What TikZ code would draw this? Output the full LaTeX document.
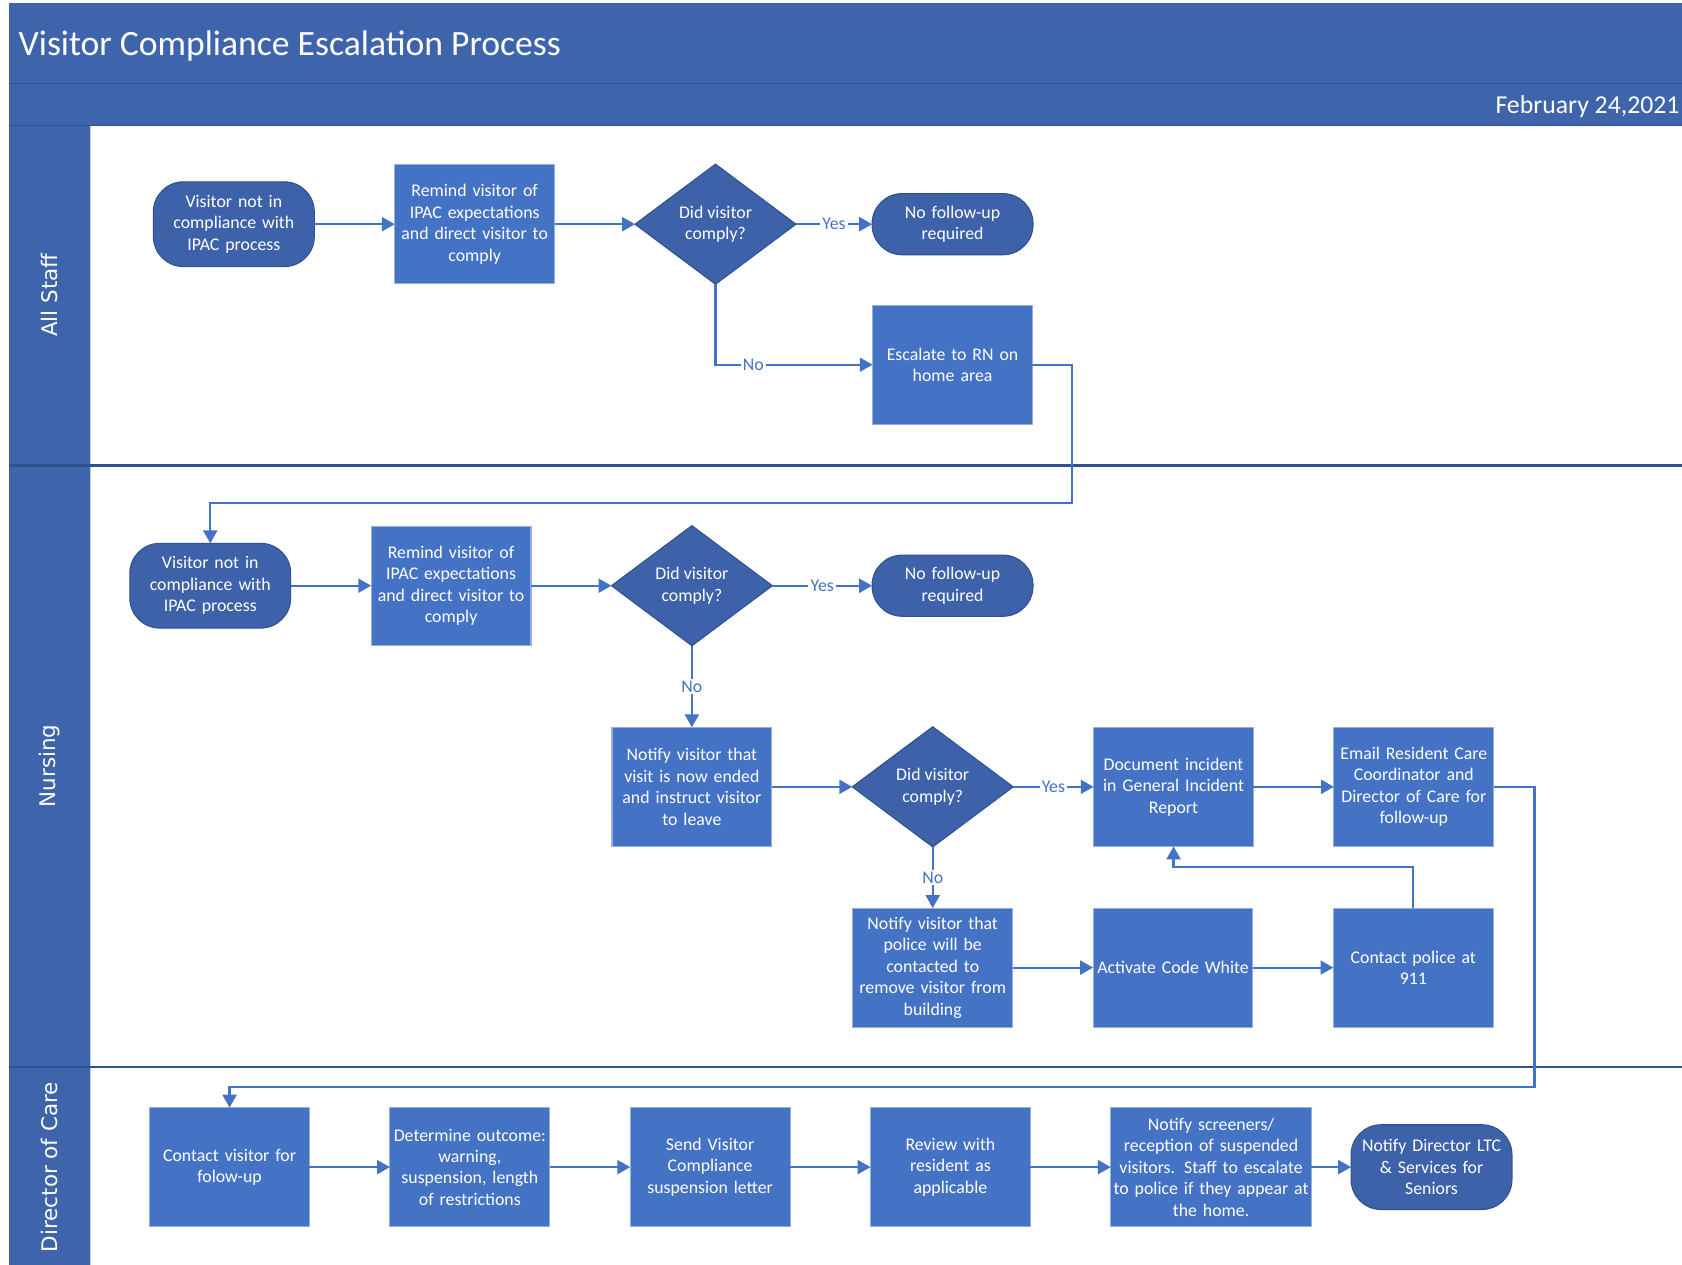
\documentclass[tikz,border=0pt]{standalone}
\usepackage{fontspec}
\setmainfont{Carlito}
\newfontfamily\lanefont{DejaVu Sans}
\usetikzlibrary{positioning}
\usetikzlibrary{shapes.geometric}
\usetikzlibrary{arrows.meta}

\definecolor{hdrblue}{RGB}{62,100,172}
\definecolor{boxblue}{RGB}{68,114,196}
\definecolor{boxedge}{RGB}{150,175,222}
\definecolor{darkblue}{RGB}{61,98,170}
\definecolor{darkedge}{RGB}{47,82,143}

\begin{document}
\begin{tikzpicture}[x=0.5pt, y=-0.5pt,
	sqnode/.style={rectangle, draw=boxedge, fill=boxblue, line width=0.5pt, text=white, minimum width=74.5pt, minimum height=55.5pt, text width=72pt, inner sep=0pt, outer sep=0pt},
	dmnode/.style={diamond, draw=darkedge, fill=darkblue, line width=0.5pt, text=white, aspect=1.34, minimum width=75pt, minimum height=56pt, inner sep=0pt, outer sep=0pt},
	tmnode/.style={rectangle, rounded corners=14pt, draw=darkedge, fill=darkblue, line width=0.5pt, text=white, minimum width=75pt, minimum height=39.5pt, text width=70pt, inner sep=0pt, outer sep=0pt},
	lanelbl/.style={rotate=90, text=white, font=\lanefont\fontsize{10}{12}\selectfont},
	lbl/.style={fill=white, text=boxblue, inner sep=1pt},
	flow/.style={draw=boxblue, line width=1pt, -{Triangle[length=6pt,width=6.5pt]}},
	node distance = 37.5pt, align = center, font=\fontsize{8.3}{10}\selectfont]

	\useasboundingbox (0,0) rectangle (1568,1179);
	\fill[white] (0,0) rectangle (1568,1179);

	% title bands and lanes
	\fill[hdrblue] (8,3) rectangle (1568,117);
	\fill[hdrblue] (8,117) rectangle (84,1179);
	\draw[darkedge, line width=0.6pt] (8,78) -- (1568,78);
	\draw[darkedge, line width=0.6pt] (8,117) -- (1568,117);
	\draw[gray!40, line width=0.4pt] (84,117) -- (84,1179);
	\draw[darkedge, line width=1pt] (8,434) -- (1568,434);
	\draw[darkedge, line width=1pt] (8,995) -- (1568,995);

	\node[anchor=west, text=white, inner sep=0pt, font=\fontsize{16.6}{20}\selectfont] (title) at (17,43) {Visitor Compliance Escalation Process};
	\node[anchor=east, text=white, inner sep=0pt, font=\fontsize{12}{14}\selectfont] (date) at (1566,99) {February 24,2021};
	\node[lanelbl] (allstaff) at (46,275) {All Staff};
	\node[lanelbl] (nursing) at (46,714) {Nursing};
	\node[lanelbl] (doc) at (46,1088) {Director of Care};

	% all staff
	\node[tmnode] (visitor) at (218,209) {Visitor not in\\compliance with\\IPAC process};
	\node[sqnode] (remind) [right= of visitor] {Remind visitor of\\IPAC expectations\\and direct visitor to\\comply};
	\node[dmnode] (comply) [right= of remind] {Did visitor\\comply?};
	\node[tmnode, minimum height=28.5pt] (nofollow) [right= 35.5pt of comply] {No follow-up\\required};
	\node[sqnode] (escalate) [below= 23.5pt of nofollow] {Escalate to RN on\\home area};
	\draw[flow] (visitor) -- (remind);
	\draw[flow] (remind) -- (comply);
	\draw[flow] (comply) -- node[lbl] {Yes} (nofollow);
	\draw[flow] (comply.south) |- node[lbl, pos=0.62] {No} (escalate.west);

	% nursing
	\node[tmnode] (visitorb) at (196,546) {Visitor not in\\compliance with\\IPAC process};
	\node[sqnode] (remindb) [right= of visitorb] {Remind visitor of\\IPAC expectations\\and direct visitor to\\comply};
	\node[dmnode] (complyb) [right= of remindb] {Did visitor\\comply?};
	\node[tmnode, minimum height=28.5pt] (nofollowb) [right= 46.5pt of complyb] {No follow-up\\required};
	\node[sqnode] (ended) [below= 38pt of complyb] {Notify visitor that\\visit is now ended\\and instruct visitor\\to leave};
	\node[dmnode] (complyc) [right= of ended] {Did visitor\\comply?};
	\node[sqnode] (document) [right= of complyc] {Document incident\\in General Incident\\Report};
	\node[sqnode] (email) [right= of document] {Email Resident Care\\Coordinator and\\Director of Care for\\follow-up};
	\node[sqnode] (police) [below= 28.5pt of complyc] {Notify visitor that\\police will be\\contacted to\\remove visitor from\\building};
	\node[sqnode] (codewhite) [right= of police] {Activate Code White};
	\node[sqnode] (call) [right= of codewhite] {Contact police at\\911};
	\draw[flow] (escalate.east) -- ++(37,0) -- ++(0,129) -| (visitorb.north);
	\draw[flow] (visitorb) -- (remindb);
	\draw[flow] (remindb) -- (complyb);
	\draw[flow] (complyb) -- node[lbl] {Yes} (nofollowb);
	\draw[flow] (complyb) -- node[lbl] {No} (ended);
	\draw[flow] (ended) -- (complyc);
	\draw[flow] (complyc) -- node[lbl] {Yes} (document);
	\draw[flow] (complyc) -- node[lbl] {No} (police);
	\draw[flow] (document) -- (email);
	\draw[flow] (police) -- (codewhite);
	\draw[flow] (codewhite) -- (call);
	\draw[flow] (call.north) -- ++(0,-38) -| (document.south);

	% director of care
	\node[sqnode] (contact) at (214,1088) {Contact visitor for\\folow-up};
	\node[sqnode] (outcome) [right= of contact] {Determine outcome:\\warning,\\suspension, length\\of restrictions};
	\node[sqnode] (letter) [right= of outcome] {Send Visitor\\Compliance\\suspension letter};
	\node[sqnode] (review) [right= of letter] {Review with\\resident as\\applicable};
	\node[sqnode, minimum width=93.5pt, text width=91pt] (screeners) [right= of review] {Notify screeners/\\reception of suspended\\visitors. Staff to escalate\\to police if they appear at\\the home.};
	\node[tmnode] (director) [right= 18.5pt of screeners] {Notify Director LTC\\\& Services for\\Seniors};
	\draw[flow] (email.east) -- ++(38,0) -- ++(0,280) -| (contact.north);
	\draw[flow] (contact) -- (outcome);
	\draw[flow] (outcome) -- (letter);
	\draw[flow] (letter) -- (review);
	\draw[flow] (review) -- (screeners);
	\draw[flow] (screeners) -- (director);
\end{tikzpicture}
\end{document}
